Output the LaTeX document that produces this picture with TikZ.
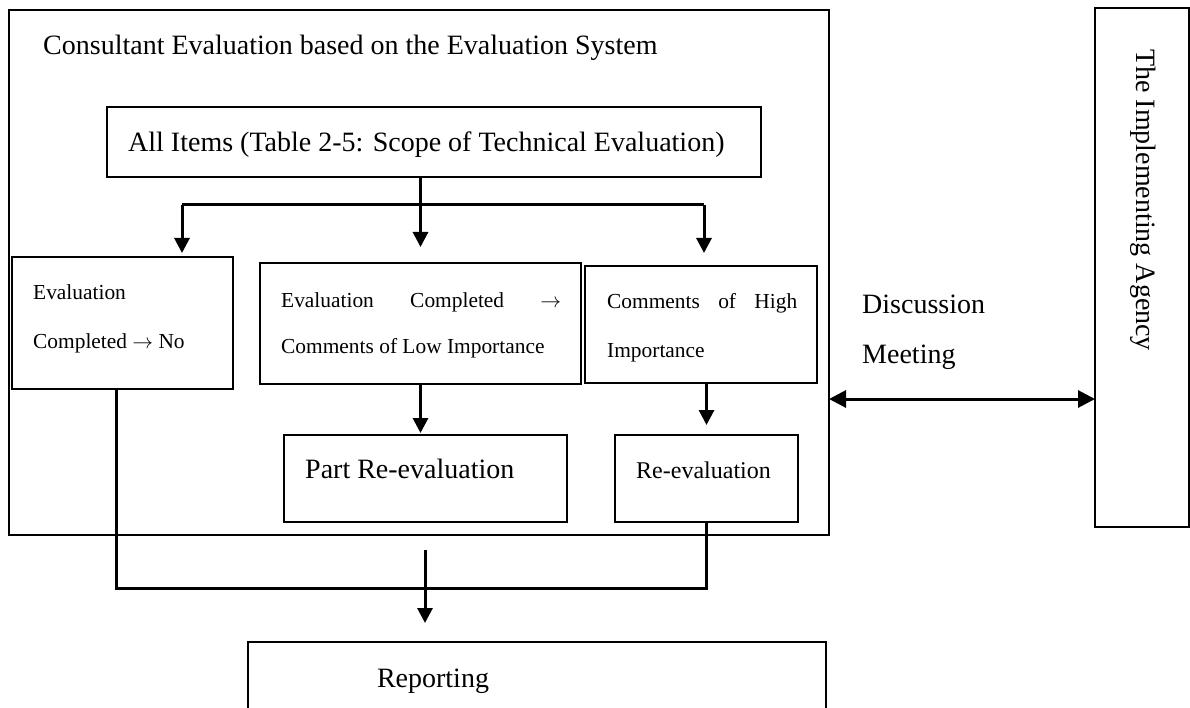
\documentclass[tikz,border=0pt]{standalone}
\usepackage{fontspec}
\setmainfont{Liberation Serif}
\usetikzlibrary{arrows.meta}
\begin{document}
\begin{tikzpicture}[x=1pt,y=-1pt,
  box/.style={draw, line width=2.6pt, rectangle, inner sep=0pt, outer sep=0pt, anchor=north west},
  conn/.style={line width=3pt},
  arr/.style={conn, -{Triangle[length=15pt,width=15pt]}},
  big/.style={font=\fontsize{28}{34}\selectfont, inner sep=0pt},
  small/.style={inner sep=0pt, align=left},
]
\useasboundingbox (0,0) rectangle (1190,708);
\clip (0,0) rectangle (1190,708);
% boxes
\node[box, minimum width=820pt, minimum height=525pt] (outer) at (9,10) {};
\node[big, anchor=base west] (title) at (43,55) {Consultant Evaluation based on the Evaluation System};
\node[box, minimum width=654pt, minimum height=70pt] (all) at (107,107) {};
\node[big, anchor=base west] (alltxt) at (128,152) {All Items (Table 2-5: Scope of Technical Evaluation)};
\node[box, minimum width=221pt, minimum height=132pt] (left) at (12,257) {};
\node[small, font=\fontsize{21.4}{48}\selectfont, anchor=base west] (lefttxt) at (33,348) {Evaluation\\Completed $\rightarrow$ No};
\node[box, minimum width=321pt, minimum height=121pt] (mid) at (260,263) {};
\node[small, font=\fontsize{21.4}{46}\selectfont, anchor=base west] (midtxt) at (281,353) {\makebox[280pt][s]{Evaluation Completed $\rightarrow$}\\Comments of Low Importance};
\node[box, minimum width=232pt, minimum height=117pt] (right) at (585,266) {};
\node[small, font=\fontsize{21.4}{49}\selectfont, anchor=base west] (righttxt) at (607,357) {\makebox[190pt][s]{Comments of High}\\Importance};
\node[box, minimum width=283pt, minimum height=87pt] (part) at (284,435) {};
\node[big, anchor=base west] (parttxt) at (305,478) {Part Re-evaluation};
\node[box, minimum width=183pt, minimum height=87pt] (reeval) at (615,435) {};
\node[font=\fontsize{24}{28}\selectfont, inner sep=0pt, anchor=base west] (reevaltxt) at (636,478) {Re-evaluation};
\node[box, minimum width=578pt, minimum height=120pt] (rep) at (248,642) {};
\node[big, anchor=base] (reptxt) at (433,687) {Reporting};
\node[box, minimum width=94pt, minimum height=519pt] (agency) at (1095,8) {};
\node[big, rotate=-90] (agencytxt) at (1143,200) {The Implementing Agency};
\node[small, font=\fontsize{28}{50}\selectfont, anchor=base west] (disc) at (862,363) {Discussion\\Meeting};
% connectors
\coordinate (bl) at (182,205);
\coordinate (br) at (704,205);
\draw[conn] (bl) -- (br);
\draw[arr, shorten >=16pt] (all.south -| mid.north) -- (mid.north);
\draw[arr, shorten >=4pt] (bl) -- (bl |- left.north);
\draw[arr, shorten >=13pt] (br) -- (br |- right.north);
\draw[arr, shorten >=2pt] (mid.south) -- (mid.south |- part.north);
\draw[arr, shorten >=10pt] (reeval.north |- right.south) -- (reeval.north);
\coordinate (j) at (116,588);
\draw[conn] (left.south -| j) -- (j) -- (j -| reeval.south) -- (reeval.south);
\coordinate (rs) at (425,550);
\draw[arr, shorten >=19pt] (rs) -- (rs |- rep.north);
\coordinate (dm) at (830,399);
\draw[conn, {Triangle[length=17pt,width=17pt]}-{Triangle[length=17pt,width=17pt]}] (dm -| outer.east) -- (dm -| agency.west);
\end{tikzpicture}
\end{document}
